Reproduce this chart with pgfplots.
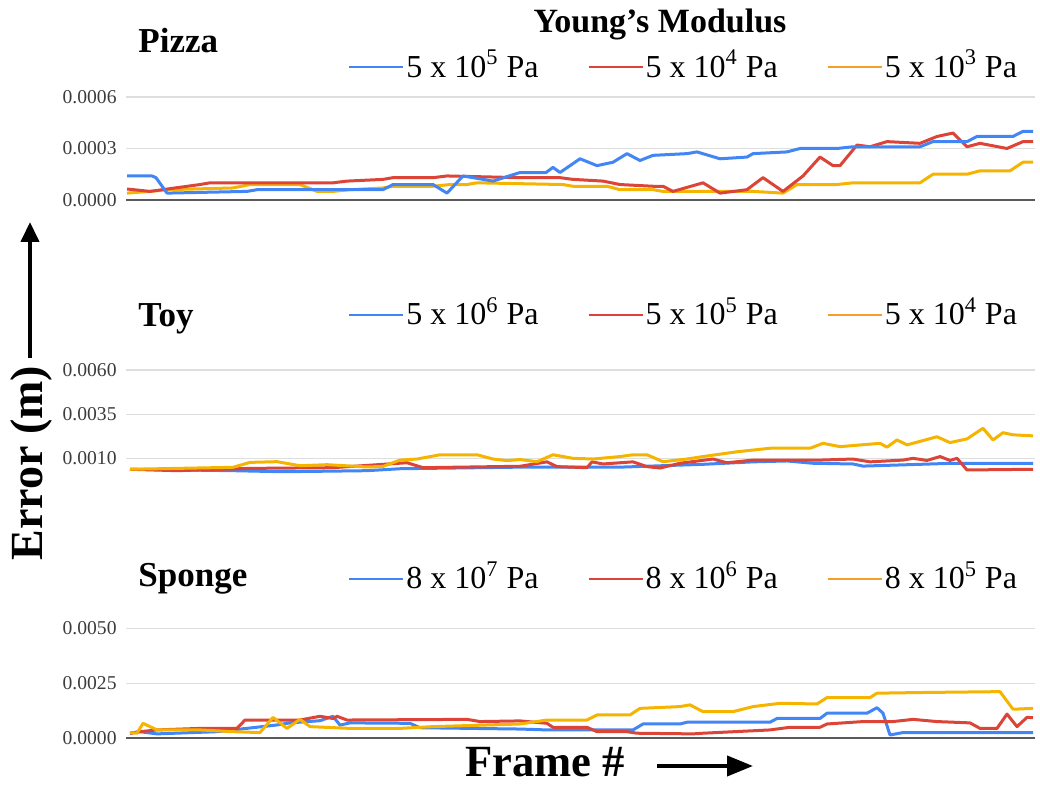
\documentclass[border=0pt]{standalone}
\usepackage{fontspec}
\setmainfont{Liberation Serif}
\usepackage{pgfplots}
\pgfplotsset{compat=1.18}
\usetikzlibrary{arrows.meta}
\definecolor{gblue}{RGB}{66,133,244}
\definecolor{gred}{RGB}{219,68,55}
\definecolor{gyellow}{RGB}{244,180,0}
\definecolor{legorange}{RGB}{244,160,40}
\definecolor{gridc}{RGB}{222,222,222}
\definecolor{tickc}{RGB}{60,60,60}
\definecolor{zeroc}{RGB}{90,90,90}

\pgfplotsset{
  panel/.style={
    scale only axis, width=454.5pt,
    xmin=0, xmax=909, xtick=\empty,
    axis x line=bottom, x axis line style={-, draw=zeroc, line width=0.9pt},
    axis y line=left, y axis line style={draw=none},
    major tick length=0pt,
    ymajorgrids, grid style={draw=gridc, line width=0.6pt},
    scaled y ticks=false,
    yticklabel style={font=\fontsize{9.8}{11}\selectfont, text=tickc, inner sep=0pt, xshift=-4.5pt,
      /pgf/number format/fixed, /pgf/number format/fixed zerofill, /pgf/number format/precision=4},
    /pgf/number format/assume math mode=true,
    every axis plot/.append style={line width=1.5pt, line join=round},
    legend columns=3, legend cell align=left,
    legend image code/.code={\draw[#1, line width=1pt] (0pt,-1pt) -- (27pt,-1pt);},
    legend style={draw=none, fill=none, inner sep=0pt, anchor=north west,
      font=\fontsize{16}{18}\selectfont,
      nodes={inner sep=0pt},
      /tikz/every odd column/.style={column sep=1pt},
      /tikz/every even column/.style={column sep=24.5pt}},
  }
}

\begin{document}
\begin{tikzpicture}[x=0.5pt, y=0.5pt]
\useasboundingbox (0,0) rectangle (1040,785);

% Pizza
\begin{axis}[panel, at={(63pt,292.5pt)}, anchor=south west, height=51.5pt,
  ymin=0, ymax=0.0006, ytick={0,0.0003,0.0006},
  legend style={at={(0.2442,1.459)}}]
\addlegendimage{gblue}\addlegendentry{5 x 10\textsuperscript{5} Pa}
\addlegendimage{gred}\addlegendentry{5 x 10\textsuperscript{4} Pa}
\addlegendimage{legorange}\addlegendentry{5 x 10\textsuperscript{3} Pa}
\addplot[gyellow, forget plot] coordinates {(1,0.00004) (24,0.00005) (41,0.00006) (107,0.00007) (124,0.00009) (174,0.00009) (191,0.00005) (207,0.00005) (224,0.00006) (257,0.00007) (267,0.00008) (307,0.00008) (324,0.00009) (341,0.00009) (351,0.0001) (437,0.00009) (447,0.00008) (481,0.00008) (494,0.00006) (527,0.00006) (537,0.00005) (627,0.00005) (657,0.00004) (671,0.00009) (711,0.00009) (727,0.0001) (794,0.0001) (807,0.00015) (841,0.00015) (854,0.00017) (884,0.00017) (897,0.00022) (907,0.00022)};
\addplot[gred, forget plot] coordinates {(1,0.000064) (24,0.00005) (74,0.00009) (84,0.0001) (127,0.0001) (207,0.0001) (221,0.00011) (257,0.00012) (267,0.00013) (307,0.00013) (321,0.00014) (394,0.00013) (434,0.00013) (447,0.00012) (477,0.00011) (494,0.00009) (527,0.00008) (537,0.00008) (547,0.00005) (577,0.0001) (594,0.00004) (621,0.00006) (637,0.00013) (657,0.00005) (677,0.00014) (694,0.00025) (707,0.0002) (714,0.0002) (731,0.00032) (744,0.00031) (761,0.00034) (794,0.00033) (811,0.00037) (827,0.00039) (841,0.00031) (854,0.00033) (881,0.0003) (897,0.00034) (907,0.00034)};
\addplot[gblue, forget plot] coordinates {(1,0.00014) (26,0.00014) (30,0.00013) (41,0.00004) (121,0.00005) (131,0.00006) (257,0.00006) (267,0.00009) (307,0.00009) (321,0.00004) (337,0.00014) (357,0.00012) (367,0.00011) (394,0.00016) (420,0.00016) (427,0.00019) (434,0.00016) (454,0.00024) (471,0.0002) (487,0.00022) (501,0.00027) (514,0.00023) (527,0.00026) (561,0.00027) (571,0.00028) (594,0.00024) (621,0.00025) (627,0.00027) (661,0.00028) (674,0.0003) (711,0.0003) (727,0.00031) (794,0.00031) (807,0.00034) (841,0.00034) (851,0.00037) (887,0.00037) (897,0.0004) (907,0.0004)};
\end{axis}

% Toy
\begin{axis}[panel, at={(63pt,154.5pt)}, anchor=south west, height=53pt,
  axis x line=none,
  ymin=0, ymax=0.006, ytick={0.001,0.0035,0.006},
  legend style={at={(0.2442,1.688)}}]
\addlegendimage{gblue}\addlegendentry{5 x 10\textsuperscript{6} Pa}
\addlegendimage{gred}\addlegendentry{5 x 10\textsuperscript{5} Pa}
\addlegendimage{legorange}\addlegendentry{5 x 10\textsuperscript{4} Pa}
\addplot[gblue, forget plot] coordinates {(4,0.00038) (107,0.0003) (157,0.00024) (241,0.0003) (274,0.00041) (394,0.0005) (494,0.0005) (577,0.00066) (627,0.0008) (661,0.00085) (687,0.00072) (727,0.00068) (737,0.00056) (794,0.00066) (827,0.00072) (907,0.00072)};
\addplot[gred, forget plot] coordinates {(4,0.00038) (51,0.0003) (124,0.00043) (207,0.00047) (241,0.0006) (281,0.00075) (297,0.00047) (394,0.00055) (421,0.0008) (431,0.00053) (461,0.00047) (466,0.0008) (477,0.00068) (507,0.0008) (521,0.00053) (534,0.00045) (554,0.00072) (587,0.00096) (601,0.00075) (627,0.0009) (694,0.0009) (727,0.00096) (744,0.0008) (777,0.0009) (787,0.001) (801,0.00088) (814,0.0011) (824,0.00088) (831,0.001) (841,0.00034) (907,0.00038)};
\addplot[gyellow, forget plot] coordinates {(4,0.00038) (107,0.00049) (124,0.00077) (151,0.00081) (174,0.00058) (201,0.00064) (241,0.00051) (257,0.00054) (274,0.0009) (291,0.00096) (314,0.0012) (351,0.0012) (367,0.00096) (381,0.00087) (394,0.00093) (411,0.00081) (427,0.0012) (447,0.001) (467,0.00096) (494,0.0011) (507,0.0012) (521,0.0012) (537,0.00081) (561,0.00096) (577,0.0011) (611,0.00137) (644,0.00157) (684,0.00157) (697,0.00185) (714,0.00166) (754,0.00185) (761,0.00163) (771,0.00204) (781,0.00176) (811,0.00222) (824,0.00189) (841,0.0021) (857,0.0027) (867,0.00204) (877,0.00245) (887,0.00233) (907,0.00227)};
\end{axis}

% Sponge
\begin{axis}[panel, at={(63pt,23.35pt)}, anchor=south west, height=55pt,
  ymin=0, ymax=0.005, ytick={0,0.0025,0.005},
  legend style={at={(0.2442,1.612)}}]
\addlegendimage{gblue}\addlegendentry{8 x 10\textsuperscript{7} Pa}
\addlegendimage{gred}\addlegendentry{8 x 10\textsuperscript{6} Pa}
\addlegendimage{legorange}\addlegendentry{8 x 10\textsuperscript{5} Pa}
\addplot[gblue, forget plot] coordinates {(4,0.00023) (14,0.0003) (31,0.0002) (91,0.0003) (150,0.0006) (164,0.0007) (194,0.0008) (207,0.001) (214,0.0006) (224,0.0007) (284,0.00068) (294,0.00048) (394,0.00042) (421,0.00038) (507,0.00038) (517,0.00065) (554,0.00065) (561,0.00073) (644,0.00073) (651,0.0009) (694,0.0009) (701,0.00114) (741,0.00114) (751,0.00139) (757,0.00114) (764,0.00015) (777,0.00026) (907,0.00026)};
\addplot[gred, forget plot] coordinates {(4,0.00023) (14,0.0003) (31,0.00038) (74,0.00045) (111,0.00045) (119,0.00083) (174,0.00083) (194,0.001) (207,0.0009) (211,0.001) (221,0.00083) (341,0.00086) (354,0.00076) (394,0.00079) (421,0.00068) (427,0.0005) (461,0.0005) (471,0.0003) (501,0.0003) (511,0.00023) (567,0.0002) (577,0.00023) (644,0.00038) (664,0.0005) (694,0.0005) (701,0.00065) (737,0.00076) (767,0.00076) (787,0.00086) (811,0.00076) (844,0.0007) (854,0.00045) (871,0.00045) (881,0.0011) (891,0.00053) (901,0.00095) (907,0.00094)};
\addplot[gyellow, forget plot] coordinates {(4,0.00026) (11,0.00023) (17,0.00068) (31,0.00038) (74,0.00038) (107,0.0003) (134,0.00026) (147,0.00095) (161,0.00045) (174,0.00086) (184,0.00053) (224,0.00045) (274,0.00045) (307,0.00053) (394,0.00065) (421,0.00083) (461,0.00083) (471,0.00106) (504,0.00106) (514,0.00136) (554,0.00144) (564,0.00152) (577,0.00121) (607,0.00121) (627,0.00144) (654,0.00159) (691,0.00156) (701,0.00185) (744,0.00185) (751,0.00205) (794,0.00208) (874,0.00212) (887,0.00132) (907,0.00136)};
\end{axis}

% titles and labels
\node[font=\bfseries\fontsize{17}{20}\selectfont, anchor=base, inner sep=0pt] at (660,752) {Young’s Modulus};
\node[font=\bfseries\fontsize{17.5}{20}\selectfont, anchor=base west, inner sep=0pt] at (138,732) {Pizza};
\node[font=\bfseries\fontsize{17.5}{20}\selectfont, anchor=base west, inner sep=0pt] at (138,458) {Toy};
\node[font=\bfseries\fontsize{17.5}{20}\selectfont, anchor=base west, inner sep=0pt] at (138,198) {Sponge};
\node[font=\bfseries\fontsize{23}{26}\selectfont, rotate=90, anchor=base, inner sep=0pt] at (42,322) {Error (m)};
\draw[line width=2pt, -{Triangle[length=10pt, width=9pt]}] (30,427) -- (30,563);
\node[font=\bfseries\fontsize{22.3}{26}\selectfont, anchor=base, inner sep=0pt] at (545,8) {Frame \#};
\draw[line width=2pt, -{Triangle[length=13pt, width=10pt]}] (657,19) -- (753,19);
\end{tikzpicture}
\end{document}
